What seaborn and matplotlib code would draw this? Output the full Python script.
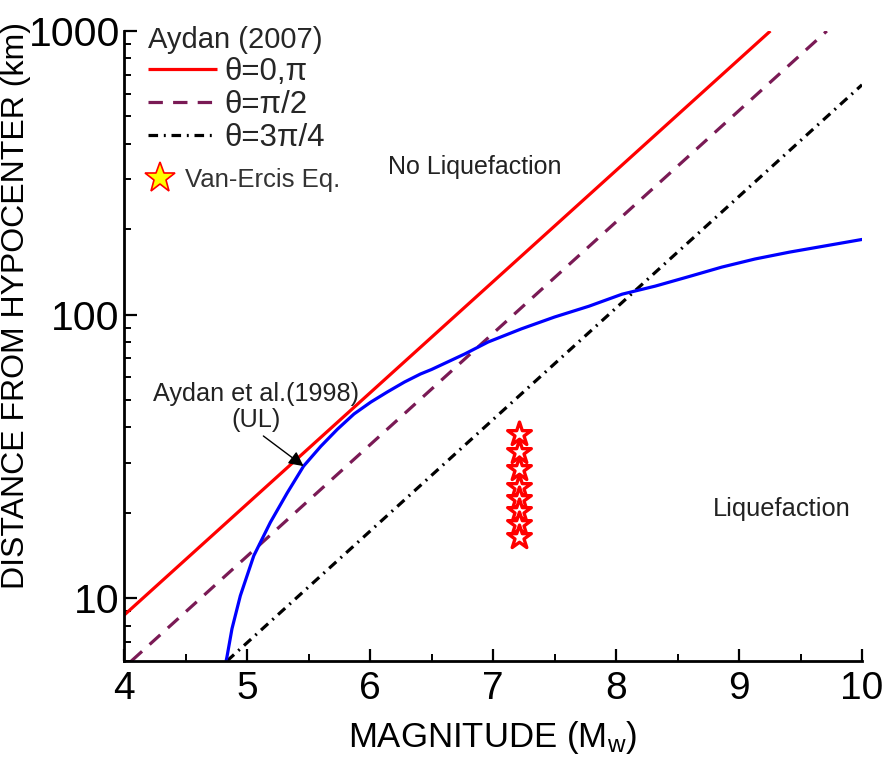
import numpy as np
import pandas as pd
import matplotlib
matplotlib.use("Agg")
import matplotlib.pyplot as plt
import seaborn as sns
from matplotlib.lines import Line2D
from matplotlib.ticker import LogLocator, NullFormatter, FixedLocator, FixedFormatter, MultipleLocator

# ---------------- data ----------------
red_mag = [4.0, 9.255]
red_dist = [8.7, 1000.0]
purple_mag = [4.06, 9.714]
purple_dist = [6.0, 1000.0]
black_mag = [4.837, 10.0]
black_dist = [6.0, 646.0]
blue_mag = [4.83, 4.837, 4.878, 4.946, 5.055, 5.19, 5.327, 5.46, 5.6, 5.735, 5.87,
            6.006, 6.14, 6.28, 6.41, 6.5, 6.77, 6.96, 7.23, 7.5, 7.78, 8.05,
            8.32, 8.59, 8.86, 9.13, 9.41, 9.68, 10.0]
blue_dist = [6.0, 6.2, 7.8, 10.2, 14.1, 18.5, 23.5, 29.2, 34.3, 39.4, 44.6,
             49.1, 53.3, 57.8, 61.7, 64.0, 72.6, 80.0, 89.0, 98.0, 107.0, 118.0,
             126.0, 136.0, 147.0, 157.0, 166.0, 174.0, 184.0]
star_mag = [7.21, 7.21, 7.21, 7.21, 7.21, 7.21, 7.21, 7.21]
star_dist = [37.9, 32.7, 28.5, 24.7, 22.4, 20.3, 18.2, 16.4]

x_ticks = [4, 5, 6, 7, 8, 9, 10]
y_ticks = [10, 100, 1000]
y_ticklabels = ["10", "100", "1000"]

# ---------------- style ----------------
sns.set_theme(style="ticks")
plt.rcParams["font.family"] = ["Liberation Sans", "DejaVu Sans"]
plt.rcParams["mathtext.fontset"] = "custom"
plt.rcParams["mathtext.rm"] = "Liberation Sans"
plt.rcParams["mathtext.it"] = "Liberation Sans"

RED = "#ff0000"
PURPLE = "#7a1a55"
BLUE = "#0000ff"

fig = plt.figure(figsize=(8.89, 7.60), dpi=100)
ax = fig.add_axes([124 / 889, 1 - 661 / 760, (862 - 124) / 889, (661 - 31) / 760])

lw = 2.3
sns.lineplot(x=red_mag, y=red_dist, ax=ax, color=RED, linewidth=lw,
             label="θ=0,π", solid_capstyle="butt")
sns.lineplot(x=purple_mag, y=purple_dist, ax=ax, color=PURPLE, linewidth=lw,
             linestyle=(0, (4.5, 3.2)), label="θ=π/2")
sns.lineplot(x=black_mag, y=black_dist, ax=ax, color="black", linewidth=lw,
             linestyle=(0, (3.0, 1.8, 0.6, 1.8)), label="θ=3π/4")
sns.lineplot(x=blue_mag, y=blue_dist, ax=ax, color=BLUE, linewidth=lw)

sns.scatterplot(x=star_mag, y=star_dist, ax=ax, marker="*", s=320,
                facecolor="white", edgecolor=RED, linewidth=2.4, zorder=5)

ax.set_yscale("log")
ax.set_xlim(4, 10)
ax.set_ylim(6, 1000)

ax.xaxis.set_major_locator(FixedLocator(x_ticks))
ax.xaxis.set_minor_locator(MultipleLocator(0.5))
ax.yaxis.set_major_locator(FixedLocator(y_ticks))
ax.yaxis.set_major_formatter(FixedFormatter(y_ticklabels))
ax.yaxis.set_minor_locator(LogLocator(base=10, subs=np.arange(2, 10)))
ax.yaxis.set_minor_formatter(NullFormatter())

sns.despine(ax=ax)
for s in ["left", "bottom"]:
    ax.spines[s].set_linewidth(2.0)
    ax.spines[s].set_color("black")

ax.tick_params(axis="both", which="major", direction="in", length=9, width=1.6,
               color="black", labelcolor="black")
ax.tick_params(axis="x", which="major", pad=7, labelsize=28)
ax.tick_params(axis="y", which="major", pad=3, labelsize=29.5)
ax.tick_params(axis="both", which="minor", direction="in", length=5, width=1.4,
               color="black")

ax.set_xlabel("MAGNITUDE (M$_\\mathregular{w}$)", fontsize=25, color="black",
              labelpad=9)
ax.set_ylabel("DISTANCE FROM HYPOCENTER (km)", fontsize=23, color="black")
ax.yaxis.set_label_coords(-0.126, 0.565)

# legends
h = ax.get_legend_handles_labels()
leg1 = ax.legend(handles=h[0], labels=h[1], title="Aydan (2007)",
                 loc="upper left", bbox_to_anchor=(0.033, 1.008),
                 frameon=False, fontsize=22.5, title_fontsize=21,
                 handlelength=2.2, handletextpad=0.22, labelspacing=0.1,
                 borderpad=0.0, borderaxespad=0.0, alignment="left")
ax.add_artist(leg1)
star_handle = Line2D([], [], linestyle="none", marker="*", markersize=23,
                     markerfacecolor="#ffff00", markeredgecolor=RED,
                     markeredgewidth=1.2)
leg2 = ax.legend(handles=[star_handle], labels=["Van-Ercis Eq."],
                 loc="center left", bbox_to_anchor=(0.032, 0.763),
                 frameon=False, fontsize=18.5, handlelength=1.0,
                 handletextpad=0.45, borderpad=0.0, borderaxespad=0.0,
                 labelcolor="#333333")

# annotations
ax.text(6.85, 331, "No Liquefaction", fontsize=18, color="#222222",
        ha="center", va="center")
ax.text(9.35, 20.6, "Liquefaction", fontsize=18.3, color="#222222",
        ha="center", va="center")
ax.text(5.07, 47.2, "Aydan et al.(1998)\n(UL)", fontsize=18.2,
        color="#222222", ha="center", va="center", linespacing=1.1)
ax.annotate("", xy=(5.46, 29.2), xytext=(5.133, 37.3),
            arrowprops=dict(arrowstyle="-|>", color="black", lw=1.0,
                            mutation_scale=22, shrinkA=0, shrinkB=0))

fig.savefig("out.png", dpi=100)
